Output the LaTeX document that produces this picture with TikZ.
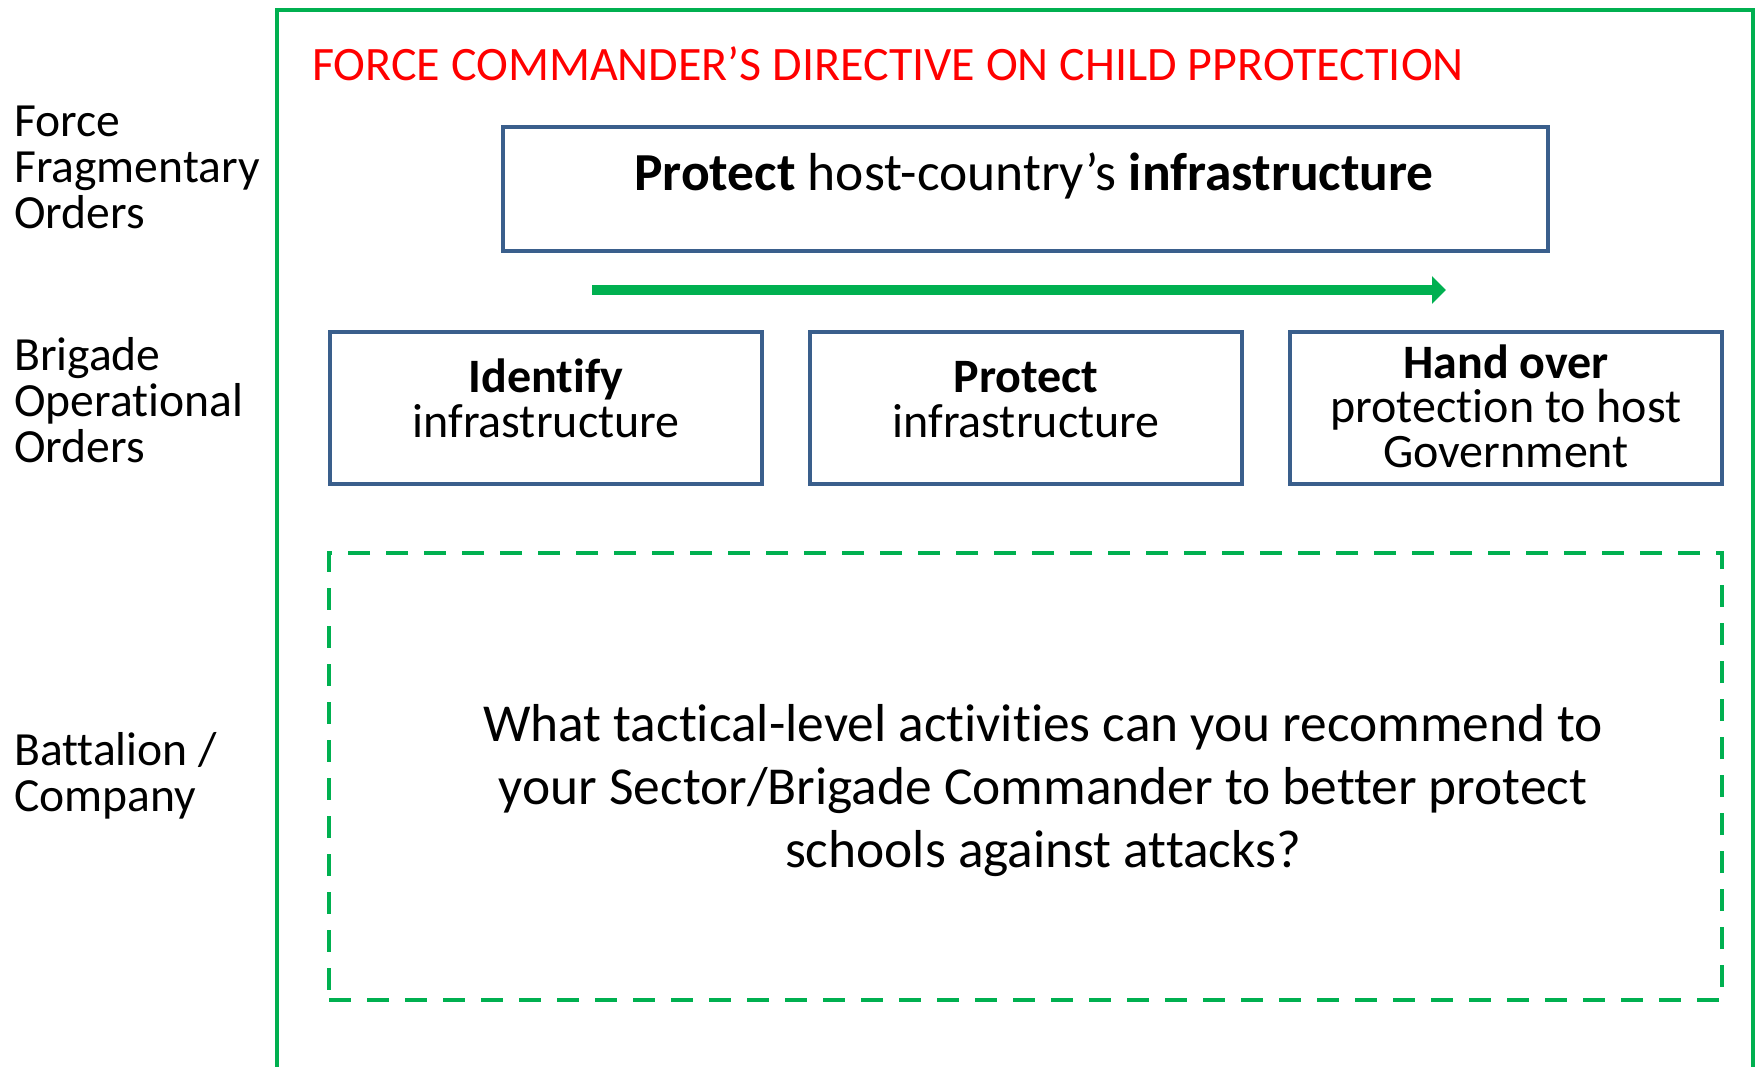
\documentclass[tikz,border=0pt]{standalone}
\usepackage{fontspec}
\setmainfont[Ligatures=NoCommon]{Carlito}
\usetikzlibrary{arrows.meta}
\definecolor{fgreen}{RGB}{0,176,80}
\definecolor{bblue}{RGB}{58,95,140}
\definecolor{tred}{RGB}{255,0,0}
\begin{document}
\begin{tikzpicture}[x=1pt,y=-1pt,
  lbl/.style={font=\fontsize{47.6}{46}\selectfont, align=left, anchor=base west, inner sep=0pt},
  stepbox/.style={draw=bblue, line width=4pt, minimum width=432pt, minimum height=152pt, inner sep=0pt},
  boxtxt/.style={font=\fontsize{48}{44.5}\selectfont, align=center, anchor=base, inner sep=0pt},
  frame/.style={draw=fgreen, line width=4pt},
  dashbox/.style={draw=fgreen, line width=4.5pt, dash pattern=on 22pt off 16pt},
  flow/.style={draw=fgreen, line width=9.5pt, -{Triangle[length=14pt,width=27pt]}}]
\path[use as bounding box] (0,0) rectangle (1758,1066);
% outer frame (open at bottom)
\coordinate (fbl) at (277,1070);
\coordinate (ftl) at (277,10);
\coordinate (ftr) at (1753,10);
\coordinate (fbr) at (1753,1070);
\draw[frame] (fbl) -- (ftl) -- (ftr) -- (fbr);
% title
\node[font=\fontsize{48}{48}\selectfont, text=tred, anchor=base west, inner sep=0pt] (title) at (312,80) {FORCE COMMANDER’S DIRECTIVE ON CHILD PPROTECTION};
% left labels (anchor = baseline of last line)
\node[lbl] (l1) at (14,228) {Force\\Fragmentary\\Orders};
\node[lbl] (l2) at (14,462) {Brigade\\Operational\\Orders};
\node[lbl] (l3) at (14,811) {Battalion /\\Company};
% top box
\node[draw=bblue, line width=4pt, minimum width=1045pt, minimum height=124pt, inner sep=0pt] (top) at (1025.5,189) {};
\node[font=\fontsize{53.5}{53}\selectfont, anchor=base, inner sep=0pt] (toptxt) at (1034,190) {\textbf{Protect} host-country’s \textbf{infrastructure}};
% arrow
\coordinate (as) at (592,290);
\coordinate (ae) at (1446,290);
\draw[flow] (as) -- (ae);
% three boxes
\node[stepbox] (b1) at (546,407.5) {};
\node[stepbox] (b2) at (1025.5,407.5) {};
\node[stepbox] (b3) at (1505.5,407.5) {};
\node[boxtxt] (t1) at (546,437) {\textbf{Identify}\\infrastructure};
\node[boxtxt] (t2) at (1026,437) {\textbf{Protect}\\infrastructure};
\node[boxtxt] (t3) at (1506,467) {\textbf{Hand over}\\protection to host\\Government};
% dashed box
\node[dashbox, minimum width=1393pt, minimum height=447pt, inner sep=0pt] (dbox) at (1025.5,776.5) {};
\node[font=\fontsize{53.4}{63}\selectfont, align=center, anchor=base, inner sep=0pt] (q) at (1043,867) {What tactical-level activities can you recommend to\\your Sector/Brigade Commander to better protect\\schools against attacks?};
\end{tikzpicture}
\end{document}
